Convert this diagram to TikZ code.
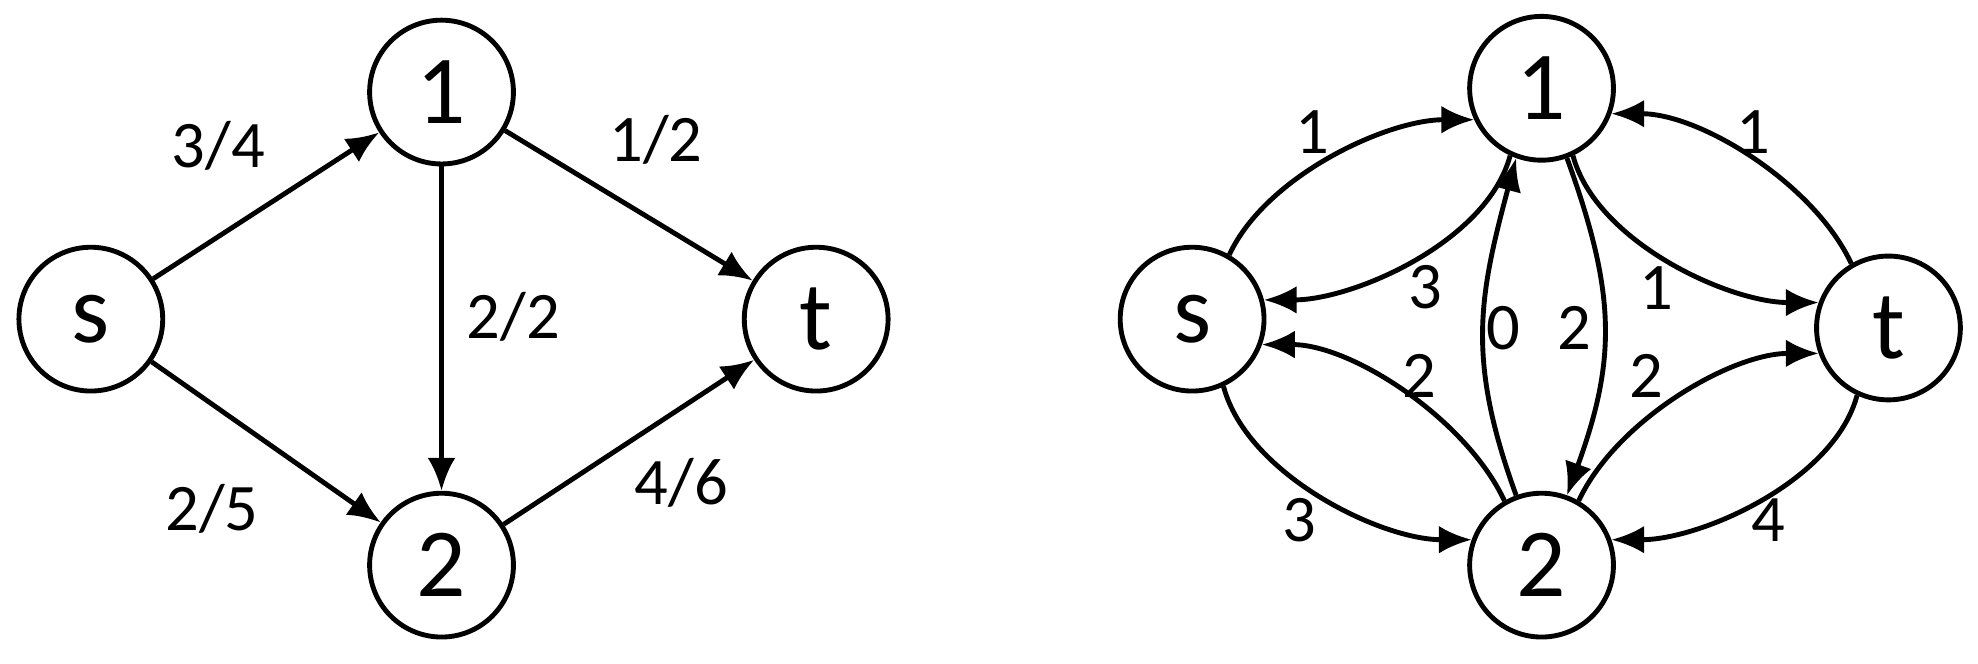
\documentclass[tikz,border=0pt]{standalone}
\usepackage{fontspec}
\setmainfont{Carlito}
\usetikzlibrary{arrows.meta,positioning}
\tikzset{
    vertex/.style={circle,draw,line width=1.1pt,minimum size=1.14cm,inner sep=0pt,font=\fontsize{22}{22}\selectfont},
    flow/.style={line width=1.1pt,-{Latex[length=2.6mm,width=2.2mm]}},
    weight/.style={font=\fontsize{15}{15}\selectfont}
}
\begin{document}
\begin{tikzpicture}
    \useasboundingbox (0,0) rectangle (15.68,5.26);
    % Flow network.
    \node[vertex] (s) at (0.72,2.73) {s};
    \node[vertex] (a) at (3.50,4.53) {1};
    \node[vertex] (t) at (6.47,2.73) {t};
    \node[vertex] (b) at (3.50,0.78) {2};
    \draw[flow] (s) -- (a);
    \draw[flow] (s) -- (b);
    \draw[flow] (a) -- (b);
    \draw[flow] (a) -- (t);
    \draw[flow] (b) -- (t);
    \node[weight] (lsa) at (1.73,4.10) {3/4};
    \node[weight] (lsb) at (1.68,1.23) {2/5};
    \node[weight] (lab) at (4.07,2.75) {2/2};
    \node[weight] (lat) at (5.20,4.15) {1/2};
    \node[weight] (lbt) at (5.40,1.43) {4/6};

    % Residual network.
    \node[vertex] (rs) at (9.45,2.73) {s};
    \node[vertex] (ra) at (12.22,4.56) {1};
    \node[vertex] (rt) at (14.97,2.66) {t};
    \node[vertex] (rb) at (12.22,0.78) {2};
    \draw[flow] (rs.60) to[out=65,in=180,looseness=0.8] (ra.205);
    \draw[flow] (ra.245) to[out=-105,in=0,looseness=0.8] (rs.15);
    \draw[flow] (rt.120) to[out=115,in=0,looseness=0.8] (ra.340);
    \draw[flow] (ra.295) to[out=-75,in=180,looseness=0.8] (rt.160);
    \draw[flow] (rb.110) to[out=110,in=-105,looseness=1.1] (ra.250);
    \draw[flow] (ra.290) to[out=-70,in=70,looseness=1.1] (rb.70);
    \draw[flow] (rb.120) to[out=115,in=0,looseness=0.8] (rs.340);
    \draw[flow] (rs.295) to[out=-75,in=180,looseness=0.8] (rb.160);
    \draw[flow] (rb.60) to[out=65,in=180,looseness=0.8] (rt.200);
    \draw[flow] (rt.245) to[out=-105,in=0,looseness=0.8] (rb.20);
    \node[weight] (rl1) at (10.40,4.21) {1};
    \node[weight] (rl2) at (11.30,2.98) {3};
    \node[weight] (rl3) at (13.90,4.21) {1};
    \node[weight] (rl4) at (13.13,2.98) {1};
    \node[weight] (rl5) at (11.92,2.66) {0};
    \node[weight] (rl6) at (12.48,2.66) {2};
    \node[weight] (rl7) at (11.25,2.28) {2};
    \node[weight] (rl8) at (10.30,1.14) {3};
    \node[weight] (rl9) at (13.05,2.28) {2};
    \node[weight] (rl10) at (14.02,1.14) {4};
\end{tikzpicture}
\end{document}
